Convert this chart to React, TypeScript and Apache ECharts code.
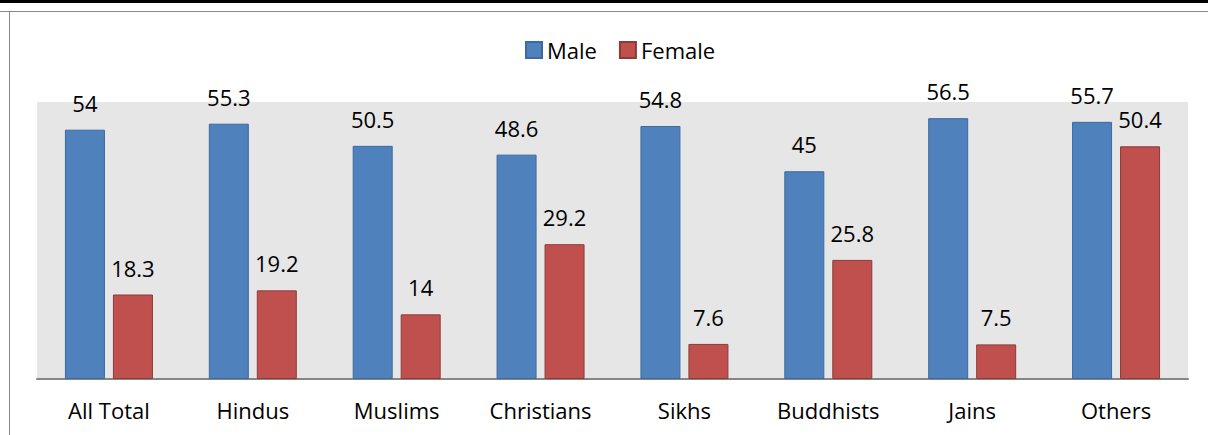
import React, { useEffect, useRef } from "react";
import * as echarts from "echarts";

const categories = ["All Total", "Hindus", "Muslims", "Christians", "Sikhs", "Buddhists", "Jains", "Others"];
const maleValues = [54, 55.3, 50.5, 48.6, 54.8, 45, 56.5, 55.7];
const femaleValues = [18.3, 19.2, 14, 29.2, 7.6, 25.8, 7.5, 50.4];

const FONT = "'Open Sans', 'Noto Sans', sans-serif";

export default function App() {
  const ref = useRef<HTMLDivElement>(null);

  useEffect(() => {
    document.body.style.margin = "0";
    const chart = echarts.init(ref.current!, null, { renderer: "svg" });
    const label = {
      show: true,
      position: "top" as const,
      distance: 16,
      color: "#000",
      fontSize: 22,
      fontFamily: FONT,
    };
    chart.setOption({
      animation: false,
      backgroundColor: "#fff",
      textStyle: { fontFamily: FONT },
      legend: {
        top: 34,
        left: 520,
        itemWidth: 16,
        itemHeight: 16,
        itemGap: 22,
        icon: "rect",
        textStyle: { fontSize: 22, color: "#000", fontFamily: FONT },
        data: ["Male", "Female"],
      },
      grid: {
        left: 37,
        right: 20,
        top: 102,
        bottom: 56,
        show: true,
        backgroundColor: "#e6e6e6",
        borderWidth: 0,
      },
      xAxis: {
        type: "category",
        data: categories,
        axisLine: { lineStyle: { color: "#868686", width: 2 } },
        axisTick: { show: false },
        axisLabel: { fontSize: 22, color: "#000", margin: 20, fontFamily: FONT },
      },
      yAxis: {
        type: "value",
        min: 0,
        max: 60,
        show: false,
        splitLine: { show: false },
      },
      graphic: [
        { type: "rect", shape: { x: 0, y: 0, width: 1208, height: 3 }, style: { fill: "#000" } },
        { type: "line", shape: { x1: 0, y1: 11.5, x2: 1208, y2: 11.5 }, style: { stroke: "#888", lineWidth: 1 } },
        { type: "line", shape: { x1: 9.5, y1: 11.5, x2: 9.5, y2: 435 }, style: { stroke: "#888", lineWidth: 1 } },
      ],
      series: [
        {
          name: "Male",
          type: "bar",
          data: maleValues,
          barWidth: "27.8%",
          barGap: "20%",
          itemStyle: { color: "#4f81bd", borderColor: "#3b6a9f", borderWidth: 1 },
          label,
        },
        {
          name: "Female",
          type: "bar",
          data: femaleValues,
          barWidth: "27.8%",
          itemStyle: { color: "#c0504d", borderColor: "#8e3a38", borderWidth: 1 },
          label,
        },
      ],
    });
    return () => chart.dispose();
  }, []);

  return <div ref={ref} style={{ width: 1208, height: 435 }} />;
}
